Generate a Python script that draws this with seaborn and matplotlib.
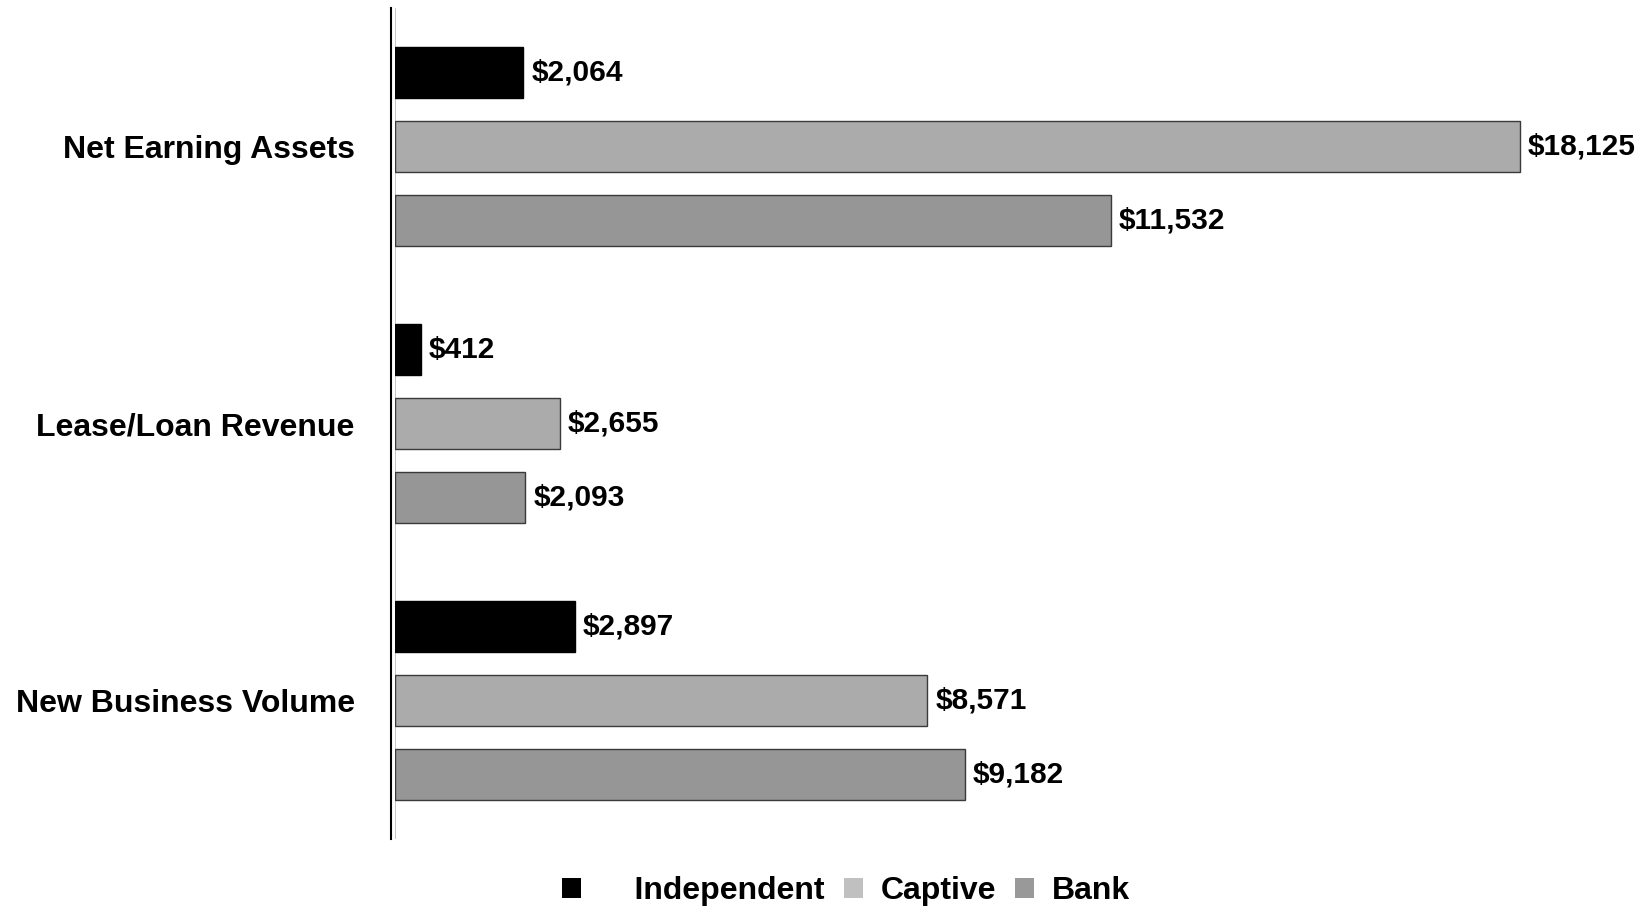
import matplotlib
matplotlib.use("Agg")
import matplotlib.pyplot as plt
import seaborn as sns
import pandas as pd

# Leasing industry metrics by company type ($ millions)
metrics = ["Net Earning Assets", "Lease/Loan Revenue", "New Business Volume"]
company_types = ["Independent", "Captive", "Bank"]
independent = [2064, 412, 2897]
captive = [18125, 2655, 8571]
bank = [11532, 2093, 9182]

colors = {"Independent": "#000000", "Captive": "#ABABAB", "Bank": "#969696"}
legend_colors = {"Independent": "#000000", "Captive": "#C0C0C0", "Bank": "#999999"}

rows = []
for ctype, vals in zip(company_types, [independent, captive, bank]):
    for m, v in zip(metrics, vals):
        rows.append({"Metric": m, "Type": ctype, "Value": v})
df = pd.DataFrame(rows)

sns.set_style("white")
plt.rcParams["font.family"] = ["Liberation Sans", "DejaVu Sans"]
plt.rcParams["font.weight"] = "bold"
plt.rcParams["text.color"] = "#000000"

fig = plt.figure(figsize=(16.46, 9.10), dpi=100)
ax = fig.add_axes([395 / 1646, 1 - 839 / 910, 1241 / 1646, (839 - 8) / 910])

sns.barplot(data=df, y="Metric", x="Value", hue="Type", order=metrics,
            hue_order=company_types, palette=colors, orient="h", gap=0.3,
            edgecolor="#3a3a3a", linewidth=1.0, legend=False, ax=ax)

for container, ctype in zip(ax.containers, company_types):
    if ctype == "Independent":
        for bar in container:
            bar.set_edgecolor("#000000")
    ax.bar_label(container, fmt=r"\${:,.0f}", padding=6, fontsize=21.5,
                 fontweight="bold", color="#000000")

ax.set_xlim(0, 20000)
ax.set_ylim(2.5, -0.5)
ax.set_xlabel("")
ax.set_ylabel("")
ax.set_xticks([])
ax.tick_params(axis="y", length=0, pad=26, labelsize=23, labelcolor="#000000")
for lab in ax.get_yticklabels():
    lab.set_fontweight("bold")

for side in ["top", "right", "bottom"]:
    ax.spines[side].set_visible(False)
ax.spines["left"].set_position(("outward", 3))
ax.spines["left"].set_color("#000000")
ax.spines["left"].set_linewidth(1.5)
ax.axvline(0, color="#BBBBBB", linewidth=1.2, zorder=0)

handles = [plt.Rectangle((0, 0), 1, 1, facecolor=legend_colors[c], edgecolor="none")
           for c in company_types]
labels = ["    " + company_types[0]] + company_types[1:]
fig.legend(handles, labels, loc="center", bbox_to_anchor=(806 / 1568, 1 - 849 / 867),
           ncol=3, frameon=False, handlelength=0.6, handleheight=0.6,
           handletextpad=0.55, columnspacing=0.6, prop={"weight": "bold", "size": 23})

fig.savefig("out.png", dpi=100)
